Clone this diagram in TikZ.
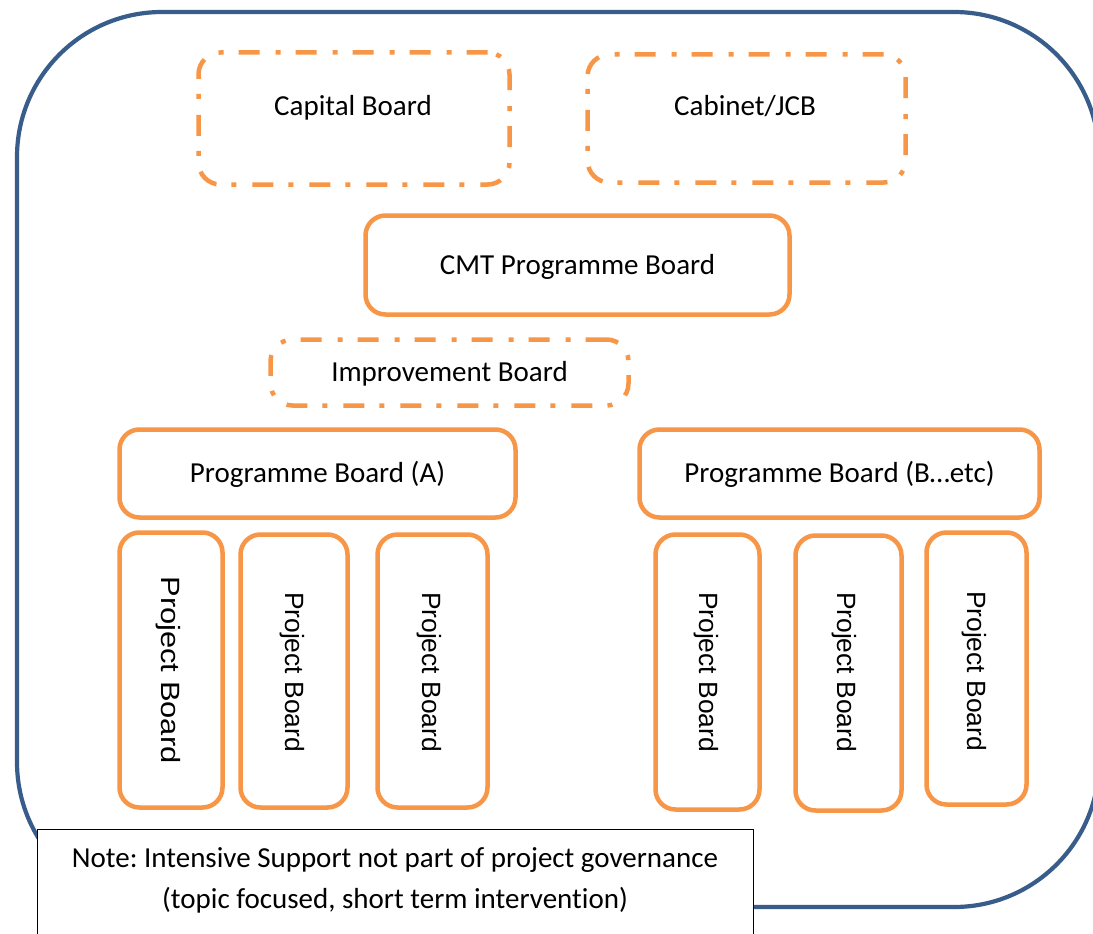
\documentclass[tikz,border=0pt]{standalone}
\usepackage{fontspec}
\usepackage{graphicx}
\setmainfont{Carlito}[Ligatures={NoCommon}]
\newfontfamily\arialfont{Liberation Sans}
\definecolor{borange}{HTML}{F79646}
\definecolor{oblue}{HTML}{385D8A}
\frenchspacing
\begin{document}
\begin{tikzpicture}[x=1pt,y=-1pt,
  box/.style={draw=borange, line width=4.5pt, rounded corners=20pt, fill=white,
    inner sep=0pt, font=\fontsize{29}{35}\selectfont, text height=18.7pt, text depth=0pt},
  dotbox/.style={box, rounded corners=22pt, dash pattern=on 21pt off 15pt on 5pt off 16pt},
  pbox/.style={box},
  ptext/.style={rotate=-90, inner sep=0pt, font=\arialfont\fontsize{26.4}{30}\selectfont,
    text height=18.9pt, text depth=0pt},
  ctext/.style={inner sep=0pt, font=\fontsize{29}{35}\selectfont, text height=18.7pt, text depth=0pt},
  notetext/.style={inner sep=0pt, anchor=base, font=\fontsize{29}{35}\selectfont}
]
\useasboundingbox (0,0) rectangle (1093,934);
\clip (0,0) rectangle (1093,934);
\fill[white] (0,0) rectangle (1093,934);

% outer frame
\draw[oblue, line width=4.2pt, rounded corners=145pt] (17,12) rectangle (1099,907);

% top boards
\node[dotbox, minimum width=311pt, minimum height=132pt] (cap) at (354,118.5) {};
\node[ctext] (captxt) at (353,106.5) {Capital Board};
\node[dotbox, minimum width=318pt, minimum height=128pt] (cab) at (746.5,118.5) {};
\node[ctext] (cabtxt) at (745,106.5) {Cabinet/JCB};

\node[box, minimum width=424pt, minimum height=99pt] (cmt) at (577.5,265) {CMT Programme Board};
\node[dotbox, minimum width=358pt, minimum height=66pt] (imp) at (449.5,372.5) {Improvement Board};

\node[box, minimum width=396pt, minimum height=88pt] (pga) at (317.5,473.5) {Programme Board (A)};
\node[box, minimum width=400pt, minimum height=88pt] (pgb) at (839.5,473.5) {Programme Board (B\ldots etc)};

% project boards
\node[pbox, minimum width=103pt, minimum height=275pt] (pa1) at (171,670) {};
\node[pbox, minimum width=107pt, minimum height=273pt] (pa2) at (294,671) {};
\node[pbox, minimum width=110pt, minimum height=273pt] (pa3) at (432.5,671) {};
\node[pbox, minimum width=104pt, minimum height=275pt] (pb1) at (707.5,672) {};
\node[pbox, minimum width=106pt, minimum height=275pt] (pb2) at (848.5,673) {};
\node[pbox, minimum width=100pt, minimum height=272pt] (pb3) at (976.5,668.5) {};

\node[ptext] (ta1) at (pa1.center) {\scalebox{1.17}[1]{Project Board}};
\node[ptext] (ta2) at (295,672) {Project Board};
\node[ptext] (ta3) at (432,672) {Project Board};
\node[ptext] (tb1) at (709,672) {Project Board};
\node[ptext] (tb2) at (847,672) {Project Board};
\node[ptext] (tb3) at (977,671) {Project Board};

% note
\node[draw=black, line width=1pt, fill=white, anchor=north west, inner sep=0pt,
  minimum width=716pt, minimum height=130pt] (note) at (37,829) {};
\node[notetext] (note1) at (395,867) {Note: Intensive Support not part of project governance};
\node[notetext] (note2) at (395,908) {(topic focused, short term intervention)};
\end{tikzpicture}
\end{document}
